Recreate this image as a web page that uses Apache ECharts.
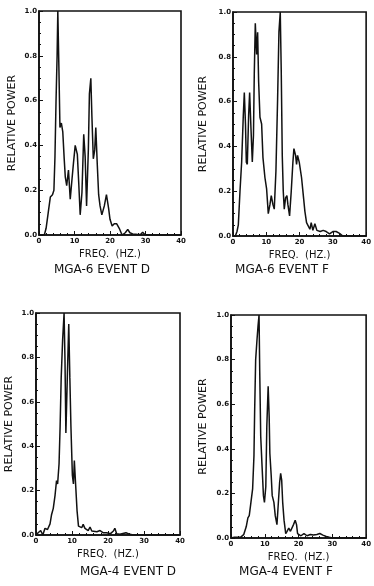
<!DOCTYPE html>
<html>
<head>
<meta charset="utf-8">
<script src="https://cdn.jsdelivr.net/npm/echarts@6/dist/echarts.min.js"></script>
<style>
  html, body { margin: 0; padding: 0; background: #fff; }
  #chart { width: 374px; height: 586px; }
</style>
</head>
<body>
<div id="chart"></div>
<script>
// tick labels
const freqTicks = ['0', '10', '20', '30', '40'];
const powerTicks = ['0.0', '0.2', '0.4', '0.6', '0.8', '1.0'];
const panelTitles = ['MGA-6 EVENT D', 'MGA-6 EVENT F', 'MGA-4 EVENT D', 'MGA-4 EVENT F'];

// MGA-6 event D
const freqA = [0, 1.5, 2.0, 2.6, 3.2, 3.8, 4.2, 4.5, 4.8, 5.1, 5.3, 5.6, 5.9, 6.3, 6.7, 7.1, 7.4, 7.8, 8.3, 8.8,
  9.3, 9.7, 10.2, 10.8, 11.2, 11.6, 12.1, 12.6, 13.0, 13.4, 13.9, 14.2, 14.6, 14.9, 15.3, 15.7, 16.0, 16.4, 16.8, 17.2,
  17.7, 18.4, 19.0, 19.6, 20.0, 20.6, 21.2, 21.9, 22.6, 23.4, 24.3, 25.0, 25.6, 26.4, 27.5, 28.6, 29.2, 29.8, 31, 40];
const powerA = [0, 0, 0.03, 0.10, 0.17, 0.18, 0.2, 0.35, 0.6, 0.8, 1.0, 0.75, 0.48, 0.5, 0.46, 0.34, 0.26, 0.22, 0.29, 0.16,
  0.25, 0.32, 0.40, 0.36, 0.23, 0.09, 0.19, 0.45, 0.35, 0.13, 0.38, 0.63, 0.70, 0.53, 0.34, 0.38, 0.48, 0.32, 0.18, 0.13,
  0.09, 0.13, 0.18, 0.12, 0.07, 0.04, 0.05, 0.05, 0.03, 0, 0.01, 0.025, 0.01, 0.005, 0.003, 0.002, 0.012, 0.002, 0, 0];

// MGA-6 event F
const freqB = [0, 0.7, 1.2, 1.6, 2.1, 2.6, 3.1, 3.4, 3.75, 4.0, 4.3, 4.7, 5.0, 5.4, 5.8, 6.15, 6.4, 6.7, 7.1, 7.4,
  7.7, 8.1, 8.6, 9.0, 9.6, 10.1, 10.6, 11.1, 11.5, 12.0, 12.4, 12.9, 13.4, 13.8, 14.2, 14.5, 14.8, 15.1, 15.4, 15.8,
  16.2, 16.5, 17.0, 17.5, 18.0, 18.3, 18.8, 19.1, 19.4, 19.9, 20.2, 20.6, 21.2, 21.6, 22.1, 22.6, 23.1, 23.5, 24.0, 24.6,
  25.2, 25.7, 26.2, 27.1, 28.0, 29.0, 30.0, 31.0, 32.0, 33.0, 40];
const powerB = [0, 0, 0.02, 0.05, 0.2, 0.33, 0.54, 0.64, 0.5, 0.33, 0.32, 0.54, 0.64, 0.48, 0.33, 0.45, 0.73, 0.95, 0.81, 0.91,
  0.69, 0.53, 0.5, 0.35, 0.26, 0.21, 0.10, 0.14, 0.18, 0.14, 0.12, 0.29, 0.61, 0.91, 1.0, 0.73, 0.36, 0.2, 0.12, 0.17,
  0.18, 0.14, 0.09, 0.2, 0.33, 0.39, 0.36, 0.32, 0.36, 0.33, 0.33, 0.26, 0.17, 0.11, 0.06, 0.055, 0.03, 0.06, 0.025, 0.055,
  0.025, 0.03, 0.02, 0.025, 0.02, 0.01, 0.02, 0.02, 0.012, 0, 0];

// MGA-4 event D
const freqC = [0, 0.6, 1.3, 1.9, 2.5, 3.2, 3.9, 4.3, 4.8, 5.3, 5.7, 6.0, 6.4, 6.7, 7.0, 7.4, 7.8, 8.05, 8.3, 8.7,
  9.1, 9.4, 9.7, 10.1, 10.4, 10.65, 11.0, 11.4, 11.8, 12.2, 12.7, 13.1, 13.6, 14.1, 14.5, 15.0, 15.5, 15.9, 16.9, 17.8,
  18.7, 19.6, 20.7, 21.5, 21.9, 22.4, 23.3, 25.0, 26.1, 27, 40];
const powerC = [0, 0.01, 0.02, 0, 0.03, 0.025, 0.05, 0.09, 0.12, 0.18, 0.245, 0.23, 0.32, 0.49, 0.71, 0.88, 1.0, 0.79, 0.46, 0.71,
  0.95, 0.71, 0.49, 0.27, 0.23, 0.335, 0.23, 0.11, 0.04, 0.048, 0.033, 0.048, 0.03, 0.033, 0.02, 0.036, 0.018, 0.026, 0.015, 0.02,
  0.01, 0.01, 0.006, 0.018, 0.03, 0.006, 0.003, 0.01, 0.003, 0, 0];

// MGA-4 event F
const freqD = [0, 1.0, 2.8, 3.75, 4.5, 5.0, 5.4, 5.9, 6.4, 6.8, 7.0, 7.3, 7.7, 8.0, 8.3, 8.5, 8.8, 9.2, 9.6, 9.9,
  10.3, 10.6, 11.0, 11.3, 11.5, 11.9, 12.2, 12.7, 13.1, 13.6, 13.9, 14.4, 14.7, 15.0, 15.3, 15.7, 16.2, 16.6, 17.1, 17.6,
  18.0, 18.5, 19.0, 19.4, 19.7, 20.7, 21.6, 22.5, 23.5, 24.4, 25.4, 26.3, 27.2, 28.2, 29.1, 30, 40];
const powerD = [0, 0.003, 0.003, 0.015, 0.05, 0.09, 0.10, 0.16, 0.22, 0.37, 0.57, 0.80, 0.89, 0.95, 1.0, 0.75, 0.455, 0.32, 0.19, 0.16,
  0.23, 0.5, 0.68, 0.545, 0.38, 0.28, 0.19, 0.16, 0.10, 0.06, 0.13, 0.25, 0.29, 0.26, 0.16, 0.08, 0.02, 0.03, 0.045, 0.03,
  0.037, 0.06, 0.08, 0.06, 0.02, 0.01, 0.02, 0.01, 0.016, 0.013, 0.016, 0.02, 0.013, 0.007, 0.003, 0, 0];

const spectra = [[freqA, powerA], [freqB, powerB], [freqC, powerC], [freqD, powerD]];

// plot boxes as measured on the scan
const boxes = [
  { left: 39, top: 11, width: 142, height: 224, nameGap: 21, titleX: 102, titleY: 264 },
  { left: 233, top: 12, width: 139, height: 224, nameGap: 24, titleX: 282, titleY: 264 },
  { left: 36, top: 313, width: 144, height: 222, nameGap: 21, titleX: 128, titleY: 566 },
  { left: 231, top: 315, width: 142, height: 223, nameGap: 22, titleX: 286, titleY: 566 },
];

const ink = '#111';
const font = 'DejaVu Sans';

const chart = echarts.init(document.getElementById('chart'), null, { renderer: 'canvas' });

chart.setOption({
  backgroundColor: '#fff',
  animation: false,
  title: boxes.map((b, i) => ({
    text: panelTitles[i],
    left: b.titleX,
    top: b.titleY,
    textAlign: 'center',
    padding: 0,
    textStyle: { fontFamily: font, fontSize: 12, fontWeight: 'normal', color: ink },
  })),
  grid: boxes.map(b => ({
    left: b.left, top: b.top, width: b.width, height: b.height,
    show: true, borderColor: ink, borderWidth: 1.6, backgroundColor: 'transparent',
  })),
  xAxis: boxes.map((b, i) => ({
    type: 'value',
    gridIndex: i,
    min: 0,
    max: 40,
    interval: 10,
    name: 'FREQ.  (HZ.)',
    nameLocation: 'middle',
    nameGap: 14,
    nameTextStyle: { fontFamily: font, fontSize: 10, color: ink },
    splitLine: { show: false },
    axisLine: { lineStyle: { color: ink, width: 1.6 } },
    axisTick: { inside: true, length: 4, lineStyle: { color: ink } },
    minorTick: { show: true, splitNumber: 5, length: 2, lineStyle: { color: ink } },
    axisLabel: {
      margin: 3, fontFamily: font, fontSize: 7, fontWeight: 'bold', color: ink,
      formatter: v => freqTicks[v / 10],
    },
  })),
  yAxis: boxes.map((b, i) => ({
    type: 'value',
    gridIndex: i,
    min: 0,
    max: 1,
    interval: 0.2,
    name: 'RELATIVE POWER',
    nameLocation: 'middle',
    nameRotate: 90,
    nameGap: b.nameGap,
    nameTextStyle: { fontFamily: font, fontSize: 11, color: ink },
    splitLine: { show: false },
    axisLine: { lineStyle: { color: ink, width: 1.6 } },
    axisTick: { inside: true, length: 4, lineStyle: { color: ink } },
    minorTick: { show: true, splitNumber: 4, length: 2, lineStyle: { color: ink } },
    axisLabel: {
      margin: 2, fontFamily: font, fontSize: 7, fontWeight: 'bold', color: ink,
      formatter: v => powerTicks[Math.round(v * 5)],
    },
  })),
  series: spectra.map(([f, p], i) => ({
    type: 'line',
    xAxisIndex: i,
    yAxisIndex: i,
    data: f.map((x, k) => [x, p[k]]),
    symbol: 'none',
    smooth: false,
    clip: true,
    lineStyle: { color: ink, width: 1.5 },
  })),
});
</script>
</body>
</html>
